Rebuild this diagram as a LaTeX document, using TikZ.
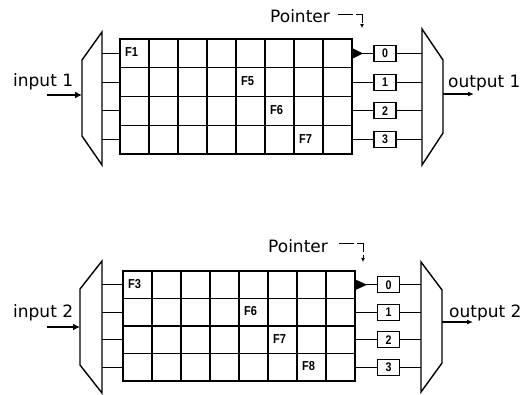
\documentclass[tikz,border=0pt]{standalone}
\usepackage{fontspec}
\setmainfont{DejaVu Sans}
\newfontfamily\tagfont{Liberation Sans}[FakeStretch=0.85]
\usetikzlibrary{arrows.meta}

\tikzset{
  wire/.style={line width=1.1pt},
  frame/.style={line width=1.4pt, line join=miter},
  gridln/.style={line width=1.4pt},
  lab/.style={font=\fontsize{17}{20}\selectfont, inner sep=0pt, anchor=base west},
  tag/.style={font=\tagfont\bfseries\fontsize{13}{14}\selectfont, inner sep=0pt, anchor=west},
  port/.style={draw, fill=white, line width=1.2pt, minimum width=22pt, minimum height=16pt,
               inner sep=0pt, font=\tagfont\bfseries\fontsize{12.5}{13}\selectfont},
  inarrow/.style={line width=2.4pt, -{Latex[length=7pt,width=7pt]}},
  outarrow/.style={line width=1.4pt, -{Latex[length=6pt,width=5pt]}},
  ptrline/.style={line width=0.9pt, dash pattern=on 15pt off 3pt, -{Latex[length=4pt,width=4pt]}},
  headmark/.style={fill=black, draw=none},
}

\begin{document}
\begin{tikzpicture}[x=1pt, y=-1pt]
\useasboundingbox (0,0) rectangle (528,394);

% ================= queue bank 1 =================
% demultiplexer
\draw[frame] (102,32) -- (82,60) -- (82,136) -- (102,165) -- cycle;
% buffer grid: 8 columns x 4 rows
\foreach \c in {0,...,8}
  \draw[gridln] ({120+29*\c},39) -- ({120+29*\c},154);
\foreach \r in {0,...,4}
  \draw[gridln] (119.3,{39+28.75*\r}) -- (352.7,{39+28.75*\r});
% cell tags
\foreach \t/\c/\r in {F1/0/0, F5/4/1, F6/5/2, F7/6/3}
  \node[tag] (a-\t) at ({120+29*\c+5},{39+28.75*\r+13.4}) {\t};
% multiplexer
\draw[frame] (422,29) -- (443,60) -- (443,133) -- (422,165) -- cycle;
% row wires and output ports
\foreach \r in {0,...,3} {
  \coordinate (d1-\r) at (102,{53.375+28.75*\r});
  \coordinate (g1-\r) at (120,{53.375+28.75*\r});
  \coordinate (q1-\r) at (352,{53.375+28.75*\r});
  \coordinate (m1-\r) at (422,{53.375+28.75*\r});
  \node[port] (b1-\r) at (385,{53.375+28.75*\r}) {\r};
  \draw[wire] (d1-\r) -- (g1-\r);
  \draw[wire] (q1-\r) -- (b1-\r);
  \draw[wire] (b1-\r) -- (m1-\r);
}
% round-robin pointer
\fill[headmark] (352,47.9) -- (363,53.375) -- (352,58.9) -- cycle;
\node[lab] (ptr1) at (270,22) {Pointer};
\coordinate (ps1) at (338,14);
\coordinate (pe1) at (362,28);
\draw[ptrline] (ps1) -| (pe1);
% input and output
\node[lab] (in1) at (13,86) {input 1};
\coordinate (ia1) at (47,95);
\coordinate (ib1) at (82,95);
\draw[inarrow] (ia1) -- (ib1);
\node[lab] (out1) at (448,87) {output 1};
\coordinate (oa1) at (443,94);
\coordinate (ob1) at (474,94);
\draw[outarrow] (oa1) -- (ob1);

% ================= queue bank 2 =================
\draw[frame] (102,261) -- (80,289) -- (80,365) -- (102,393) -- cycle;
\foreach \c in {0,...,8}
  \draw[gridln] ({123+29*\c},271) -- ({123+29*\c},381);
\foreach \r in {0,...,4}
  \draw[gridln] (122.3,{271+27.5*\r}) -- (355.7,{271+27.5*\r});
\foreach \t/\c/\r in {F3/0/0, F6/4/1, F7/5/2, F8/6/3}
  \node[tag] (b-\t) at ({123+29*\c+5},{271+27.5*\r+12.8}) {\t};
\draw[frame] (421,262) -- (442,290) -- (442,363) -- (421,392) -- cycle;
\foreach \r in {0,...,3} {
  \coordinate (d2-\r) at (102,{284.75+27.5*\r});
  \coordinate (g2-\r) at (123,{284.75+27.5*\r});
  \coordinate (q2-\r) at (355,{284.75+27.5*\r});
  \coordinate (m2-\r) at (421,{284.75+27.5*\r});
  \node[port] (b2-\r) at (388.5,{284.75+27.5*\r}) {\r};
  \draw[wire] (d2-\r) -- (g2-\r);
  \draw[wire] (q2-\r) -- (b2-\r);
  \draw[wire] (b2-\r) -- (m2-\r);
}
\fill[headmark] (355,279.3) -- (367,284.75) -- (355,290.2) -- cycle;
\node[lab] (ptr2) at (268,252) {Pointer};
\coordinate (ps2) at (339,243);
\coordinate (pe2) at (363,262);
\draw[ptrline] (ps2) -| (pe2);
\node[lab] (in2) at (13,317) {input 2};
\coordinate (ia2) at (47,327);
\coordinate (ib2) at (80,327);
\draw[inarrow] (ia2) -- (ib2);
\node[lab] (out2) at (449,317) {output 2};
\coordinate (oa2) at (442,322);
\coordinate (ob2) at (473,322);
\draw[outarrow] (oa2) -- (ob2);
\end{tikzpicture}
\end{document}
